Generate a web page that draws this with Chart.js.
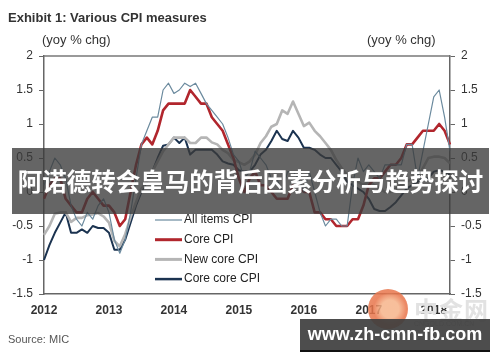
<!DOCTYPE html>
<html>
<head>
<meta charset="utf-8">
<script src="https://cdn.jsdelivr.net/npm/chart.js@4"></script>
<style>
  html, body { margin: 0; padding: 0; background: #fff; }
  #wrap { position: relative; width: 500px; height: 362px; overflow: hidden; font-family: "Liberation Sans", Arial, sans-serif; }
  #cpiChart { position: absolute; left: 0; top: 0; }
  .txt { position: absolute; color: #333; white-space: nowrap; }
  #title { left: 8px; top: 10px; font-size: 13px; font-weight: bold; }
  #unitL { left: 42px; top: 32px; font-size: 13px; }
  #unitR { left: 367px; top: 32px; font-size: 13px; }
  #source { left: 8px; top: 333px; font-size: 11px; color: #555; }
  #banner { position: absolute; left: 12px; top: 148px; width: 477px; height: 66px; background: rgba(58,58,58,0.78);
            color: #fff; font-family: "Noto Sans CJK SC", sans-serif; font-weight: bold; font-size: 24.5px;
            line-height: 66px; text-align: center; white-space: nowrap; }
  #logo { position: absolute; left: 368px; top: 289px; width: 40px; height: 40px; border-radius: 50%;
          background: radial-gradient(circle at 55% 50%, #f6b48a 0 30%, #e8744a 55%, #e9825a 100%); opacity: 0.85; }
  #logoTxt { position: absolute; left: 414px; top: 291px; font-family: "Noto Sans CJK SC", sans-serif; font-weight: bold;
             font-size: 24px; color: #e2e2e2; letter-spacing: 1px; }
  #logoSub { position: absolute; left: 414px; top: 320px; font-size: 7px; color: #c8c8c8; }
  #site { position: absolute; left: 300px; top: 319px; width: 190px; height: 31px; background: rgba(62,62,62,0.92);
          border-bottom: 2px solid #111; color: #fff; font-weight: bold; font-size: 18px; line-height: 31px; text-align: center; }
</style>
</head>
<body>
<div id="wrap">
  <canvas id="cpiChart" width="500" height="362"></canvas>
  <div class="txt" id="title">Exhibit 1: Various CPI measures</div>
  <div class="txt" id="unitL">(yoy % chg)</div>
  <div class="txt" id="unitR">(yoy % chg)</div>
  <div class="txt" id="source">Source: MIC</div>
  <div id="banner">阿诺德转会皇马的背后因素分析与趋势探讨</div>
  <div id="logo"></div>
  <div class="txt" id="logoTxt">中金网</div>
  <div class="txt" id="logoSub">CNGOLD.COM.CN</div>
  <div id="site">www.zh-cmn-fb.com</div>
</div>
<script>
// Monthly data, Jan 2012 .. Apr 2018
const years = ['2012', '2013', '2014', '2015', '2016', '2017', '2018'];
const yTicks = [-1.5, -1, -0.5, 0, 0.5, 1, 1.5, 2];

const allItems = [
  0.1, 0.3, 0.5, 0.4, 0.2, -0.2, -0.4, -0.5, -0.3, -0.4, -0.2, -0.1,
  -0.3, -0.7, -0.9, -0.7, -0.3, 0.2, 0.7, 0.9, 1.1, 1.1, 1.5, 1.6,
  1.45, 1.5, 1.6, 1.55, 1.6, 1.45, 1.3, 1.2, 1.1, 1.0, 0.8, 0.55,
  0.45, 0.2, 0.3, 0.6, 0.5, 0.4, 0.2, 0.2, 0.0, 0.3, 0.3, 0.2,
  0.0, 0.3, 0.0, -0.3, -0.5, -0.4, -0.4, -0.5, -0.5, 0.1, 0.5, 0.3,
  0.4, 0.3, 0.2, 0.4, 0.4, 0.4, 0.4, 0.7, 0.7, 0.2, 0.6, 1.0,
  1.4, 1.5, 1.1, 0.6
];
const coreCpi = [
  -0.1, 0.1, 0.2, 0.2, -0.1, -0.2, -0.3, -0.3, -0.1, 0.0, -0.1, -0.2,
  -0.2, -0.3, -0.5, -0.4, 0.0, 0.4, 0.7, 0.8, 0.7, 0.9, 1.2, 1.3,
  1.3, 1.3, 1.3, 1.5, 1.4, 1.3, 1.3, 1.1, 1.0, 0.9, 0.7, 0.5,
  0.2, 0.0, 0.2, 0.3, 0.1, 0.1, 0.0, -0.1, -0.1, -0.1, 0.1, 0.1,
  0.0, 0.0, -0.3, -0.3, -0.4, -0.4, -0.5, -0.5, -0.5, -0.4, -0.4, -0.2,
  0.1, 0.2, 0.2, 0.3, 0.4, 0.4, 0.5, 0.7, 0.7, 0.8, 0.9, 0.9,
  0.9, 1.0, 0.9, 0.7
];
const newCore = [
  -0.63, -0.5, -0.32, -0.3, -0.3, -0.44, -0.38, -0.38, -0.34, -0.33, -0.31, -0.36,
  -0.45, -0.72, -0.8, -0.62, -0.37, -0.15, 0.05, 0.15, 0.3, 0.45, 0.6, 0.7,
  0.8, 0.8, 0.8, 0.72, 0.72, 0.8, 0.8, 0.73, 0.7, 0.62, 0.57, 0.47,
  0.44, 0.4, 0.45, 0.55, 0.72, 0.82, 0.96, 1.0, 1.2, 1.15, 1.33, 1.15,
  0.97, 1.02, 0.9, 0.82, 0.72, 0.62, 0.47, 0.35, 0.25, 0.2, 0.15, 0.1,
  0.15, 0.1, 0.05, 0.0, 0.0, 0.05, 0.1, 0.15, 0.2, 0.2, 0.35, 0.5,
  0.52, 0.52, 0.5, 0.42
];
const coreCore = [
  -1.0, -0.78, -0.6, -0.45, -0.3, -0.6, -0.6, -0.55, -0.6, -0.5, -0.53, -0.53,
  -0.6, -0.85, -0.85, -0.7, -0.45, -0.2, 0.0, 0.15, 0.3, 0.5, 0.68, 0.7,
  0.8, 0.72, 0.8, 0.55, 0.62, 0.62, 0.62, 0.62, 0.55, 0.45, 0.42, 0.4,
  0.32, 0.3, 0.3, 0.4, 0.55, 0.62, 0.75, 0.9, 0.78, 0.75, 0.9, 0.8,
  0.65, 0.65, 0.62, 0.55, 0.5, 0.5, 0.4, 0.3, 0.15, 0.1, 0.05, 0.0,
  -0.1, -0.25, -0.28, -0.28, -0.22, -0.15, -0.05, 0.05, 0.1, 0.15, 0.2, 0.2,
  0.3, 0.32, 0.3, 0.25
];

const monthLabels = allItems.map((_, i) => years[Math.floor(i / 12)] + '-' + (i % 12 + 1));

document.addEventListener('DOMContentLoaded', () => {
  initChart();
});

// legend drawn inside the plot, under the 2013/2014 area
const innerLegend = {
  id: 'innerLegend',
  afterDatasetsDraw(chart) {
    const { ctx, chartArea } = chart;
    const x0 = chartArea.left + 111;
    let y = chartArea.top + 164;
    ctx.save();
    ctx.font = '12px "Liberation Sans", Arial, sans-serif';
    ctx.textBaseline = 'middle';
    chart.data.datasets.forEach(ds => {
      ctx.strokeStyle = ds.borderColor;
      ctx.lineWidth = ds.legendWidth;
      ctx.beginPath();
      ctx.moveTo(x0, y);
      ctx.lineTo(x0 + 27, y);
      ctx.stroke();
      ctx.fillStyle = '#222';
      ctx.fillText(ds.label, x0 + 29, y);
      y += 19.7;
    });
    ctx.restore();
  }
};

// top edge of the frame
const topEdge = {
  id: 'topEdge',
  afterDraw(chart) {
    const { ctx, chartArea } = chart;
    ctx.save();
    ctx.strokeStyle = '#777';
    ctx.lineWidth = 1.5;
    ctx.beginPath();
    ctx.moveTo(chartArea.left, chartArea.top);
    ctx.lineTo(chartArea.right, chartArea.top);
    ctx.stroke();
    ctx.restore();
  }
};

function valueAxis(pos, width) {
  return {
    type: 'linear',
    position: pos,
    min: -1.5,
    max: 2,
    afterBuildTicks: s => { s.ticks = yTicks.map(v => ({ value: v })); },
    afterFit: s => { s.width = width; },
    grid: { drawOnChartArea: false, drawTicks: true, tickLength: 5, color: '#666', lineWidth: 1 },
    border: { display: true, color: '#666', width: 1.5 },
    ticks: {
      color: '#333',
      padding: 6,
      font: { family: '"Liberation Sans", Arial, sans-serif', size: 12 },
      callback: v => String(v)
    }
  };
}

function initChart() {
  const el = document.getElementById('cpiChart');
  new Chart(el.getContext('2d'), {
    type: 'line',
    data: {
      labels: monthLabels,
      datasets: [
        { label: 'All items CPI', data: allItems, borderColor: '#6b8a9e', borderWidth: 1.2, legendWidth: 1.2, yAxisID: 'y' },
        { label: 'Core CPI', data: coreCpi, borderColor: '#b1262d', borderWidth: 2.6, legendWidth: 3, yAxisID: 'y' },
        { label: 'New core CPI', data: newCore, borderColor: '#b5b5b5', borderWidth: 2.6, legendWidth: 3, yAxisID: 'y' },
        { label: 'Core core CPI', data: coreCore, borderColor: '#1b3350', borderWidth: 2, legendWidth: 2.5, yAxisID: 'y' }
      ]
    },
    options: {
      responsive: false,
      animation: false,
      devicePixelRatio: 1,
      layout: { padding: { top: 56, left: 0, right: 0, bottom: 0 } },
      elements: { point: { radius: 0 }, line: { tension: 0, borderJoinStyle: 'round' } },
      plugins: { legend: { display: false }, tooltip: { enabled: false } },
      scales: {
        x: {
          type: 'category',
          position: 'bottom',
          offset: false,
          afterFit: s => { s.height = 68; },
          grid: { display: false, drawTicks: false },
          border: { display: true, color: '#666', width: 1.5 },
          ticks: {
            autoSkip: false,
            maxRotation: 0,
            padding: 9,
            color: '#333',
            font: { family: '"Liberation Sans", Arial, sans-serif', size: 12, weight: 'bold' },
            callback: (v, i) => (i % 12 === 0 ? years[i / 12] : '')
          }
        },
        y: valueAxis('left', 44),
        y2: valueAxis('right', 50)
      }
    },
    plugins: [innerLegend, topEdge]
  });
}
</script>
</body>
</html>
